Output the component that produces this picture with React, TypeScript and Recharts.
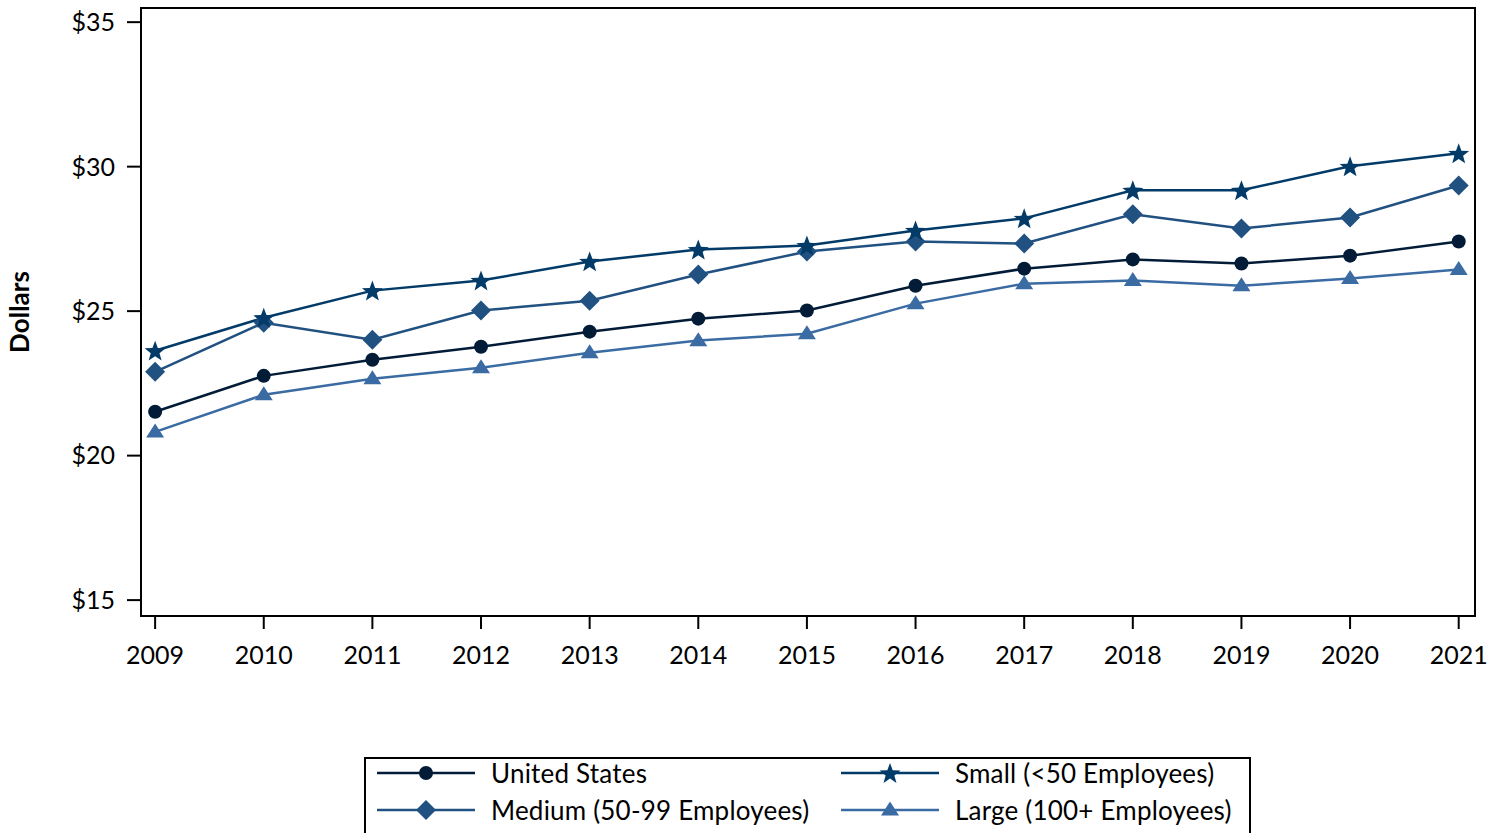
import { LineChart, Line, XAxis, YAxis, ReferenceArea } from 'recharts';

const years = [2009, 2010, 2011, 2012, 2013, 2014, 2015, 2016, 2017, 2018, 2019, 2020, 2021];
const unitedStates = [21.52, 22.76, 23.32, 23.77, 24.29, 24.74, 25.02, 25.88, 26.47, 26.79, 26.65, 26.92, 27.41];
const small = [23.63, 24.77, 25.71, 26.06, 26.72, 27.13, 27.27, 27.79, 28.21, 29.18, 29.18, 30.01, 30.46];
const medium = [22.9, 24.6, 24.01, 25.02, 25.36, 26.27, 27.06, 27.41, 27.34, 28.35, 27.86, 28.24, 29.35];
const large = [20.82, 22.11, 22.66, 23.04, 23.56, 23.98, 24.22, 25.26, 25.95, 26.06, 25.88, 26.13, 26.44];
const yTicks = [15, 20, 25, 30, 35];

const X_DOMAIN: [number, number] = [2008.87, 2021.15];
const Y_DOMAIN: [number, number] = [14.45, 35.49];

const FONT = 'Lato, "Open Sans", sans-serif';
const C_US = '#021c38';
const C_SMALL = '#023a68';
const C_MED = '#215181';
const C_LARGE = '#3a6ba3';

const data = years.map((y, i) => ({
  year: y,
  us: unitedStates[i],
  small: small[i],
  medium: medium[i],
  large: large[i],
}));

// marker shapes
function Marker({ kind, cx, cy, color }: { kind: string; cx: number; cy: number; color: string }) {
  if (cx == null || cy == null) return null;
  if (kind === 'circle') return <circle cx={cx} cy={cy} r={7} fill={color} />;
  if (kind === 'diamond') {
    const r = 10;
    return <polygon points={`${cx},${cy - r} ${cx + r},${cy} ${cx},${cy + r} ${cx - r},${cy}`} fill={color} />;
  }
  if (kind === 'triangle') {
    const h = 14;
    const w = 9;
    return <polygon points={`${cx},${cy - h * 0.6} ${cx + w},${cy + h * 0.4} ${cx - w},${cy + h * 0.4}`} fill={color} />;
  }
  // star
  const pts: string[] = [];
  for (let k = 0; k < 10; k++) {
    const rad = k % 2 === 0 ? 11 : 4.6;
    const a = -Math.PI / 2 + (k * Math.PI) / 5;
    pts.push(`${cx + rad * Math.cos(a)},${cy + 1 + rad * Math.sin(a)}`);
  }
  return <polygon points={pts.join(' ')} fill={color} />;
}

const dotFor = (kind: string, color: string) => (p: any) => (
  <Marker key={`${kind}-${p.index}`} kind={kind} cx={p.cx} cy={p.cy} color={color} />
);

const legendItems = [
  { name: 'United States', kind: 'circle', color: C_US, x: 364, y: 773 },
  { name: 'Small (<50 Employees)', kind: 'star', color: C_SMALL, x: 828, y: 773 },
  { name: 'Medium (50-99 Employees)', kind: 'diamond', color: C_MED, x: 364, y: 810 },
  { name: 'Large (100+ Employees)', kind: 'triangle', color: C_LARGE, x: 828, y: 810 },
];

export default function App() {
  const axisTick = { fill: '#000', fontSize: 25, fontFamily: FONT };
  return (
    <div style={{ position: 'absolute', left: 0, top: 0, width: 1502, height: 833, background: '#fff', overflow: 'hidden', fontFamily: FONT }}>
      <LineChart width={1502} height={700} data={data} margin={{ top: 8, right: 27, left: 0, bottom: 0 }}>
        <XAxis
          dataKey="year"
          type="number"
          domain={X_DOMAIN}
          ticks={years}
          allowDataOverflow
          stroke="#000"
          strokeWidth={2}
          tickSize={13}
          tickMargin={17}
          height={84}
          tick={axisTick}
        />
        <YAxis
          domain={Y_DOMAIN}
          ticks={yTicks}
          allowDataOverflow
          tickFormatter={(v) => `$${v}`}
          stroke="#000"
          strokeWidth={2}
          tickSize={14}
          tickMargin={12}
          width={141}
          tick={axisTick}
        />
        {/* plot frame */}
        <ReferenceArea
          x1={X_DOMAIN[0]}
          x2={X_DOMAIN[1]}
          y1={Y_DOMAIN[0]}
          y2={Y_DOMAIN[1]}
          fill="none"
          fillOpacity={0}
          stroke="#000"
          strokeWidth={2}
          strokeOpacity={1}
        />
        <Line dataKey="large" stroke={C_LARGE} strokeWidth={2.5} dot={dotFor('triangle', C_LARGE)} isAnimationActive={false} />
        <Line dataKey="us" stroke={C_US} strokeWidth={2.5} dot={dotFor('circle', C_US)} isAnimationActive={false} />
        <Line dataKey="medium" stroke={C_MED} strokeWidth={2.5} dot={dotFor('diamond', C_MED)} isAnimationActive={false} />
        <Line dataKey="small" stroke={C_SMALL} strokeWidth={2.5} dot={dotFor('star', C_SMALL)} isAnimationActive={false} />
      </LineChart>

      {/* y axis title */}
      <div
        style={{
          position: 'absolute',
          left: 19,
          top: 312,
          transform: 'translate(-50%, -50%) rotate(-90deg)',
          fontWeight: 700,
          fontSize: 26,
          color: '#000',
          whiteSpace: 'nowrap',
        }}
      >
        Dollars
      </div>

      {/* legend */}
      <div style={{ position: 'absolute', left: 364, top: 757, width: 887, height: 100, border: '2px solid #000', boxSizing: 'border-box' }} />
      {legendItems.map((it) => (
        <div key={it.name} style={{ position: 'absolute', left: it.x + 12, top: it.y - 18, height: 36, display: 'flex', alignItems: 'center' }}>
          <svg width={100} height={36}>
            <line x1={1} x2={99} y1={18} y2={18} stroke={it.color} strokeWidth={2.5} />
            <Marker kind={it.kind} cx={50} cy={18} color={it.color} />
          </svg>
          <span style={{ marginLeft: 15, fontSize: 26, letterSpacing: 0.2, color: '#000', whiteSpace: 'nowrap' }}>{it.name}</span>
        </div>
      ))}
    </div>
  );
}
